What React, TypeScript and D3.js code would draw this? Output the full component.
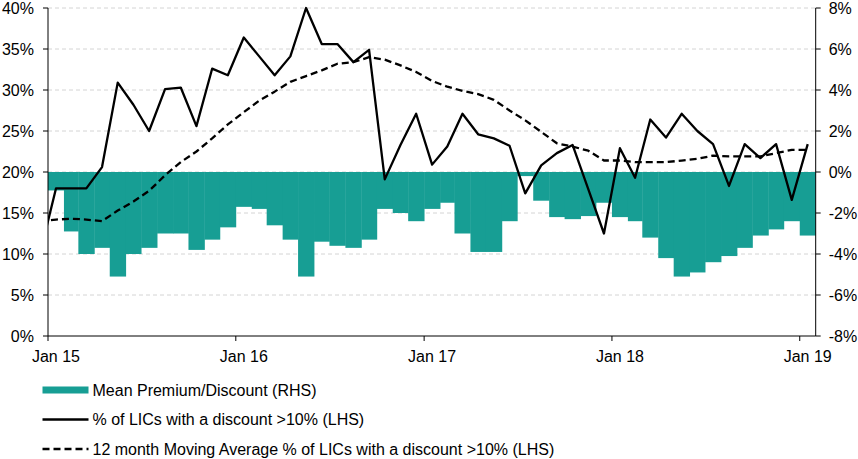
import * as d3 from 'd3';

// monthly categories, Dec 14 (clipped off the left edge) to Jan 19
const months = d3.timeMonth.range(new Date(2014, 11, 1), new Date(2019, 1, 1));

// Mean Premium/Discount (RHS), % – no bar for Dec 14
const meanPremium: (number | null)[] = [
  null,
  -0.9, -2.9, -4.0, -3.7, -5.1, -4.0, -3.7, -3.0, -3.0, -3.8, -3.3, -2.7,
  -1.7, -1.8, -2.6, -3.3, -5.1, -3.4, -3.6, -3.7, -3.3, -1.8, -2.0, -2.4,
  -1.8, -1.5, -3.0, -3.9, -3.9, -2.4, -0.2, -1.4, -2.2, -2.3, -2.15, -1.5,
  -2.2, -2.4, -3.2, -4.2, -5.1, -4.9, -4.4, -4.1, -3.7, -3.1, -2.8, -2.4,
  -3.1,
];

// % of LICs with a discount >10% (LHS)
const pctDiscount = [
  10.0,
  18.0, 18.0, 18.0, 20.6, 30.9, 28.2, 25.0, 30.1, 30.3, 25.6, 32.6, 31.8,
  36.4, 34.1, 31.8, 34.1, 40.0, 35.6, 35.6, 33.4, 34.9, 19.1, 23.3, 27.1,
  20.9, 23.1, 27.1, 24.6, 24.1, 23.2, 17.4, 20.8, 22.3, 23.3, 17.9, 12.5,
  22.9, 19.3, 26.4, 24.2, 27.1, 25.0, 23.4, 18.3, 23.4, 21.7, 23.4, 16.6,
  23.4,
];

// 12 month Moving Average (LHS)
const movingAvg = [
  14.0,
  14.2, 14.3, 14.2, 14.0, 15.3, 16.4, 17.7, 19.6, 21.2, 22.5, 24.1, 25.8,
  27.3, 28.7, 29.8, 31.0, 31.7, 32.4, 33.2, 33.4, 34.0, 33.7, 33.0, 32.2,
  31.1, 30.4, 29.9, 29.5, 28.8, 27.5, 26.3, 24.9, 23.5, 23.1, 22.6, 21.4,
  21.4, 21.2, 21.2, 21.2, 21.4, 21.6, 22.0, 21.9, 21.9, 21.9, 22.3, 22.7,
  22.7,
];

const leftTicks = [0, 5, 10, 15, 20, 25, 30, 35, 40];
const rightTicks = [-8, -6, -4, -2, 0, 2, 4, 6, 8];
const yearTicks = [2015, 2016, 2017, 2018, 2019];

const legendItems = [
  { label: 'Mean Premium/Discount (RHS)', kind: 'bar' },
  { label: '% of LICs with a discount >10% (LHS)', kind: 'solid' },
  { label: '12 month Moving Average % of LICs with a discount >10% (LHS)', kind: 'dash' },
];

const W = 858;
const H = 459;
const margin = { top: 8, right: 42.3, bottom: 123, left: 48 };
const teal = '#179e94';
const font = '"Liberation Sans", Arial, sans-serif';

export default function App() {
  const x = d3
    .scaleTime()
    .domain([new Date(2015, 0, 1), new Date(2019, 1, 1)])
    .range([margin.left, W - margin.right]);
  const yL = d3.scaleLinear().domain([0, 40]).range([H - margin.bottom, margin.top]);
  const yR = d3.scaleLinear().domain([-8, 8]).range([H - margin.bottom, margin.top]);

  const x0 = margin.left;
  const x1 = W - margin.right;
  const yBottom = H - margin.bottom;

  const mid = (d: Date) => new Date((+d + +d3.timeMonth.offset(d, 1)) / 2);

  const line = d3
    .line<number>()
    .x((_, i) => x(mid(months[i])))
    .y(d => yL(d));

  return (
    <svg
      width={W}
      height={H}
      style={{ position: 'absolute', left: 0, top: 0, fontFamily: font }}
    >
      <defs>
        <clipPath id="plot">
          <rect x={x0} y={0} width={x1 - x0} height={H} />
        </clipPath>
      </defs>

      {/* gridlines */}
      {leftTicks
        .filter(t => t > 0)
        .map(t => (
          <line
            key={t}
            x1={x0}
            x2={x1}
            y1={yL(t)}
            y2={yL(t)}
            stroke="#d4d4d4"
            strokeWidth={1}
            strokeDasharray="4,3"
          />
        ))}

      {/* bars */}
      <g clipPath="url(#plot)">
        {meanPremium.map((v, i) =>
          v == null ? null : (
            <rect
              key={i}
              x={x(months[i])}
              width={x(d3.timeMonth.offset(months[i], 1)) - x(months[i]) + 0.4}
              y={yR(0)}
              height={yR(v) - yR(0)}
              fill={teal}
            />
          )
        )}
      </g>

      {/* lines */}
      <g clipPath="url(#plot)" fill="none" stroke="#000" strokeWidth={2.3} strokeLinejoin="round">
        <path d={line(movingAvg) ?? ''} strokeDasharray="7,4" />
        <path d={line(pctDiscount) ?? ''} />
      </g>

      {/* left axis */}
      <line x1={x0} x2={x0} y1={margin.top} y2={yBottom} stroke="#000" />
      {leftTicks.map(t => (
        <g key={t}>
          <line x1={x0 - 5} x2={x0} y1={yL(t)} y2={yL(t)} stroke="#000" />
          <text x={34} y={yL(t)} dy="0.35em" textAnchor="end" fontSize={16}>
            {t}%
          </text>
        </g>
      ))}

      {/* right axis */}
      <line x1={x1} x2={x1} y1={margin.top} y2={yBottom} stroke="#000" />
      {rightTicks.map(t => (
        <g key={t}>
          <line x1={x1} x2={x1 + 5} y1={yR(t)} y2={yR(t)} stroke="#000" />
          <text x={x1 + 13} y={yR(t)} dy="0.35em" textAnchor="start" fontSize={16}>
            {t}%
          </text>
        </g>
      ))}

      {/* bottom axis */}
      <line x1={x0} x2={x1} y1={yBottom} y2={yBottom} stroke="#000" />
      {yearTicks.map(yr => {
        const d = new Date(yr, 0, 1);
        return (
          <g key={yr}>
            <line x1={x(d)} x2={x(d)} y1={yBottom} y2={yBottom + 5} stroke="#000" />
            <text x={x(mid(d))} y={362} textAnchor="middle" fontSize={16}>
              {d3.timeFormat('%b %y')(d)}
            </text>
          </g>
        );
      })}

      {/* legend */}
      {legendItems.map((it, i) => {
        const cy = 390 + i * 29.5;
        return (
          <g key={it.label}>
            {it.kind === 'bar' ? (
              <rect x={42.5} y={cy - 3.5} width={46} height={7} fill={teal} />
            ) : (
              <line
                x1={42.5}
                x2={88.5}
                y1={cy}
                y2={cy}
                stroke="#000"
                strokeWidth={2.3}
                strokeDasharray={it.kind === 'dash' ? '7,4' : undefined}
              />
            )}
            <text x={92.5} y={cy} dy="0.35em" fontSize={16}>
              {it.label}
            </text>
          </g>
        );
      })}
    </svg>
  );
}
